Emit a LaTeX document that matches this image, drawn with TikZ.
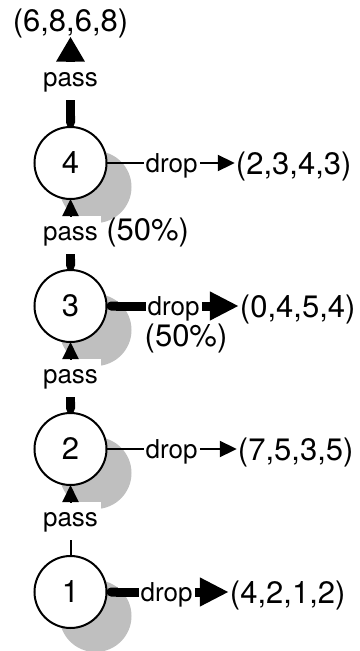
\documentclass[tikz,border=0pt]{standalone}
\usepackage{fontspec}
\setmainfont{TeX Gyre Heros}
\usetikzlibrary{positioning, arrows.meta, shadows}

\newcommand{\letraGrande}{\fontsize{31}{31}\selectfont}
\newcommand{\letraChica}{\fontsize{26}{26}\selectfont}

\begin{document}
\begin{tikzpicture}[
    x=1pt, y=-1pt,
    every node/.style={font=\letraChica},
    estado/.style={circle, draw, fill=white, line width=2pt, minimum size=72pt, inner sep=0pt, outer sep=0pt, font=\letraGrande,
      drop shadow={shadow xshift=25pt, shadow yshift=-24pt, fill=black!25, opacity=1}},
    paso/.style={fill=white, inner xsep=3pt, inner ysep=0pt, text height=25pt, text depth=13pt},
    caida/.style={inner xsep=2pt, inner ysep=0pt, text height=19pt, text depth=0pt},
    tupla/.style={font=\letraGrande, inner xsep=1pt, inner ysep=0pt, text height=22pt, text depth=0pt},
    fina/.style={line width=2pt},
    gruesa/.style={line width=9pt, arrows={Round Cap-}},
    flechaFina/.style={line width=2pt, -{Triangle[length=17pt, width=16pt]}},
    flechaGruesa/.style={line width=9pt, -{Triangle[length=#1, width=27pt]}},
    flechaGruesa/.default=29pt
  ]
  \useasboundingbox (0,0) rectangle (359,651);

  % ---------------- Estados ----------------
  \node (nodo1) [estado] at (70.5,592) {1};
  \node (nodo2) [estado, above=71pt of nodo1] {2};
  \node (nodo3) [estado, above=71pt of nodo2] {3};
  \node (nodo4) [estado, above=71pt of nodo3] {4};

  % ---------------- Etiquetas pass ----------------
  \node (pasa1) [paso, above=16pt of nodo1] {pass};
  \node (pasa2) [paso, above=16pt of nodo2] {pass};
  \node (pasa3) [paso, above=16pt of nodo3] {pass};
  \node (porc3a) [paso, fill=none, inner xsep=0pt, font=\letraGrande, right=5pt of pasa3] {(50\%)};
  \node (pasa4) [paso, above=27pt of nodo4] {pass};
  \node (tuplaSup) [tupla, text depth=5pt, above=25pt of pasa4] {(6,8,6,8)};

  % ---------------- Etiquetas drop ----------------
  \node (cae1) [caida, right=32pt of nodo1] {drop};
  \node (tupla1) [tupla, right=34pt of cae1] {(4,2,1,2)};
  \node (cae2) [caida, right=37pt of nodo2] {drop};
  \node (tupla2) [tupla, right=37pt of cae2] {(7,5,3,5)};
  \node (cae3) [caida, right=39pt of nodo3] {drop};
  \node (tupla3) [tupla, right=37pt of cae3] {(0,4,5,4)};
  \node (porc3b) [caida, font=\letraGrande, text height=23pt, text depth=7pt, below right=8pt and -3pt of cae3.south west] {(50\%)};
  \node (cae4) [caida, right=37pt of nodo4] {drop};
  \node (tupla4) [tupla, right=35pt of cae4] {(2,3,4,3)};

  % Conexiones pass
  \draw[fina] (nodo1) -- (pasa1);
  \draw[flechaFina] (pasa1) -- (nodo2);
  \draw[gruesa] (nodo2) -- (pasa2);
  \draw[flechaFina] (pasa2) -- (nodo3);
  \draw[gruesa] (nodo3) -- (pasa3);
  \draw[flechaFina] (pasa3) -- (nodo4);
  \draw[gruesa] (nodo4) -- (pasa4);
  \draw[flechaGruesa=25pt] (pasa4) -- (tuplaSup);

  % Conexiones drop
  \draw[gruesa] (nodo1) -- (cae1);
  \draw[flechaGruesa] (cae1) -- (tupla1);
  \draw[fina] (nodo2) -- (cae2);
  \draw[flechaFina] (cae2) -- (tupla2);
  \draw[gruesa] (nodo3) -- (cae3);
  \draw[flechaGruesa] (cae3) -- (tupla3);
  \draw[fina] (nodo4) -- (cae4);
  \draw[flechaFina] (cae4) -- (tupla4);

\end{tikzpicture}
\end{document}
